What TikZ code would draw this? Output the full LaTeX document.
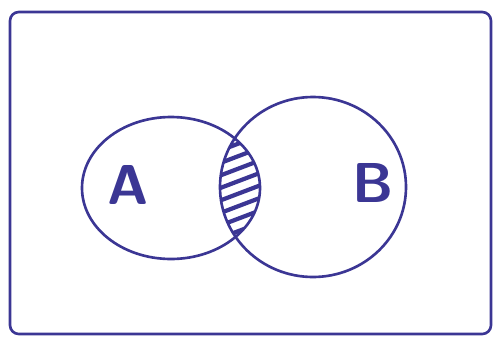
\documentclass[tikz,border=0pt]{standalone}
\usepackage{tikz}
\usetikzlibrary{positioning}
\definecolor{ink}{rgb}{0.23, 0.21, 0.58}
\tikzset{every picture/.style={
    line width = 1.5pt, color = ink,
}}
\tikzset{hatch/.style = {line width = 2.4pt, line cap = round}}
\tikzset{setlabel/.style = {ink, font = \fontsize{32}{32}\selectfont\sffamily\bfseries}}

\begin{document}
\begin{tikzpicture}
    \useasboundingbox (0, 0) rectangle (9.9, 6.8);
    \draw[rounded corners = 5] (0.2, 0.12) rectangle (9.82, 6.56);

    \draw (3.42, 3.04) ellipse [x radius = 1.78, y radius = 1.42];
    \draw (6.26, 3.06) ellipse [x radius = 1.86, y radius = 1.8];

    \begin{scope}
      \clip (3.42, 3.04) ellipse [x radius = 1.78, y radius = 1.42];
      \clip (6.26, 3.06) ellipse [x radius = 1.86, y radius = 1.8];
      \foreach \y in {1.75, 2.0, ..., 4.3}
        \draw[hatch] (4.3, \y) -- (5.3, \y + 0.38);
    \end{scope}

    \node [setlabel] (a) at (2.56, 3.1) {A};
    \node [setlabel] (b) at (7.46, 3.14) {B};
  \end{tikzpicture}
\end{document}
